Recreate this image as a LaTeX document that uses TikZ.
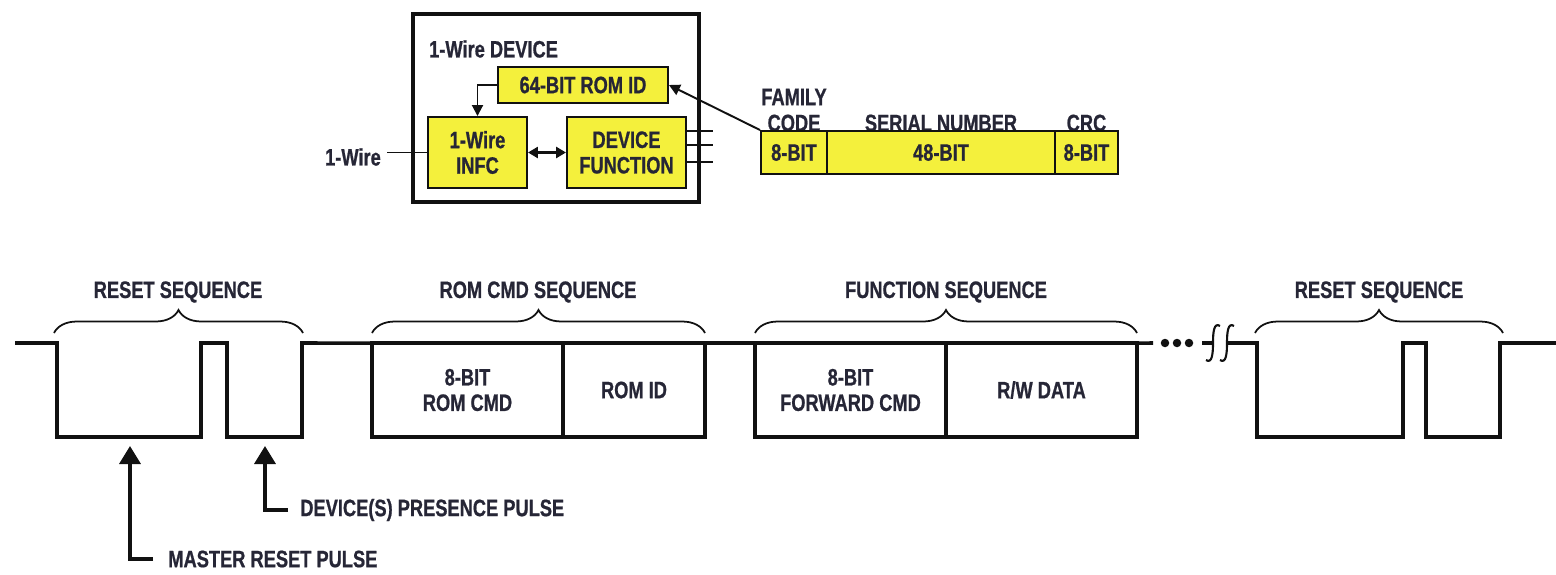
\documentclass[tikz,border=0pt]{standalone}
\usepackage{fontspec}
\setmainfont{Liberation Sans}[FakeStretch=0.77, BoldFeatures={FakeBold=0.8}]
\usepackage{tikz}
\usetikzlibrary{arrows.meta,positioning,decorations.pathreplacing}
\definecolor{WireInk}{HTML}{262636}
\definecolor{WireLine}{HTML}{111111}
\definecolor{WireYellow}{HTML}{F4F03C}

\begin{document}
\begin{tikzpicture}[x=0.02cm, y=-0.02cm,
  font=\fontsize{13.5}{14.5}\selectfont\bfseries, text=WireInk,
  chip/.style={draw=WireLine, line width=1.1pt, fill=WireYellow, align=center, inner sep=0pt},
  frame/.style={draw=WireLine, line width=2pt, outer sep=0pt, align=center, inner sep=0pt,
    minimum height=1.88cm},
  wave/.style={WireLine, line width=2pt},
  seqbrace/.style={WireLine, line width=1pt, decorate, decoration={brace, amplitude=0.46cm}},
  pulsearrow/.style={WireLine, line width=2pt, -{Triangle[length=0.36cm, width=0.42cm]}}]
  \useasboundingbox (0,0) rectangle (1556,575);

  % device block
  \node[draw=WireLine, line width=2pt, minimum width=5.72cm, minimum height=3.76cm] (device) at (556,108) {};
  \node[anchor=west] (devlbl) at (423,49) {1-Wire DEVICE};
  \node[chip, minimum width=3.4cm, minimum height=0.72cm] (romid) at (583,85) {64-BIT ROM ID};
  \node[chip, minimum width=1.98cm, minimum height=1.42cm] (infc) at (477.5,152.5) {1-Wire\\INFC};
  \node[chip, minimum width=2.38cm, minimum height=1.42cm] (devfn) at (626.5,152.5) {DEVICE\\FUNCTION};
  \draw[WireLine, line width=1.1pt, -{Triangle[length=0.22cm, width=0.22cm]}] (romid.west) -| (infc.north);
  \draw[WireLine, line width=1.4pt, {Triangle[length=0.2cm, width=0.22cm]}-{Triangle[length=0.2cm, width=0.22cm]}]
    (infc.east) -- (devfn.west);
  \node[anchor=east] (wirelbl) at (387,157) {1-Wire};
  \draw[WireLine, line width=1.1pt] (wirelbl.east |- infc.west) -- (infc.west);
  \foreach \y in {131,145,162}{%
    \coordinate (out\y) at (713,\y);
    \draw[WireLine, line width=1.1pt] (devfn.east |- out\y) -- (out\y);}

  % ROM ID fields
  \node (famlbl) at (794,97) {FAMILY};
  \node (codelbl) at (794,123) {CODE};
  \node (serlbl) at (941,123) {SERIAL NUMBER};
  \node (crclbl) at (1086.5,123) {CRC};
  \node[chip, minimum width=1.32cm, minimum height=0.86cm] (fam) at (794,152.5) {8-BIT};
  \node[chip, minimum width=4.56cm, minimum height=0.86cm] (serial) at (941,152.5) {48-BIT};
  \node[chip, minimum width=1.26cm, minimum height=0.86cm] (crc) at (1086.5,152.5) {8-BIT};
  \draw[WireLine, line width=1.1pt, -{Triangle[length=0.22cm, width=0.22cm]}] (fam.north west) -- (romid.east);

  % bus sequence
  \node[frame, minimum width=3.82cm] (romcmd) at (467.5,390) {8-BIT\\ROM CMD};
  \node[frame, minimum width=2.84cm] (romfld) at (634,390) {ROM ID};
  \node[frame, minimum width=3.82cm] (fwdcmd) at (850.5,390) {8-BIT\\FORWARD CMD};
  \node[frame, minimum width=3.82cm] (rwdata) at (1041.5,390) {R/W DATA};
  \draw[wave] (15,343) -- (57,343) -- (57,437) -- (201,437) -- (201,343) -- (227,343)
    -- (227,437) -- (302,437) -- (302,343) -- (romcmd.north west);
  \draw[wave] (romfld.north east) -- (fwdcmd.north west);
  \draw[wave] (rwdata.north east) -- (1153,343);
  \foreach \x in {1165,1177,1189}
    {\fill[WireLine] (\x,343) circle (0.085cm);}
  \draw[wave] (1202,343) -- (1213,343);
  % line break marks
  \foreach \x in {1213,1227}
    {\draw[WireLine, line width=1.2pt] (\x+7,326) .. controls (\x+1,322) and (\x,332) .. (\x,343)
      .. controls (\x,354) and (\x-1,364) .. (\x-7,360);}
  \draw[wave] (1227,343) -- (1257,343) -- (1257,437) -- (1403,437) -- (1403,343) -- (1426,343)
    -- (1426,437) -- (1500,437) -- (1500,343) -- (1556,343);

  % sequence braces
  \draw[seqbrace] (54,333) -- (303,333);
  \draw[seqbrace] (372,333) -- (705,333);
  \draw[seqbrace] (755,333) -- (1137,333);
  \draw[seqbrace] (1255,333) -- (1503,333);
  \node (rst1) at (178,292) {RESET SEQUENCE};
  \node (romseq) at (538,292) {ROM CMD SEQUENCE};
  \node (fnseq) at (946,292) {FUNCTION SEQUENCE};
  \node (rst2) at (1379,292) {RESET SEQUENCE};

  % pulse callouts
  \coordinate (mrptip) at (130,446);
  \node[anchor=west, inner xsep=0.3cm] (mrp) at (153,559) {MASTER RESET PULSE};
  \draw[pulsearrow] (mrp.west) -| (mrptip);
  \coordinate (dpptip) at (265,446);
  \node[anchor=west, inner xsep=0.24cm] (dpp) at (288,510) {DEVICE(S) PRESENCE PULSE};
  \draw[pulsearrow] (dpp.west) -| (dpptip);
\end{tikzpicture}
\end{document}
